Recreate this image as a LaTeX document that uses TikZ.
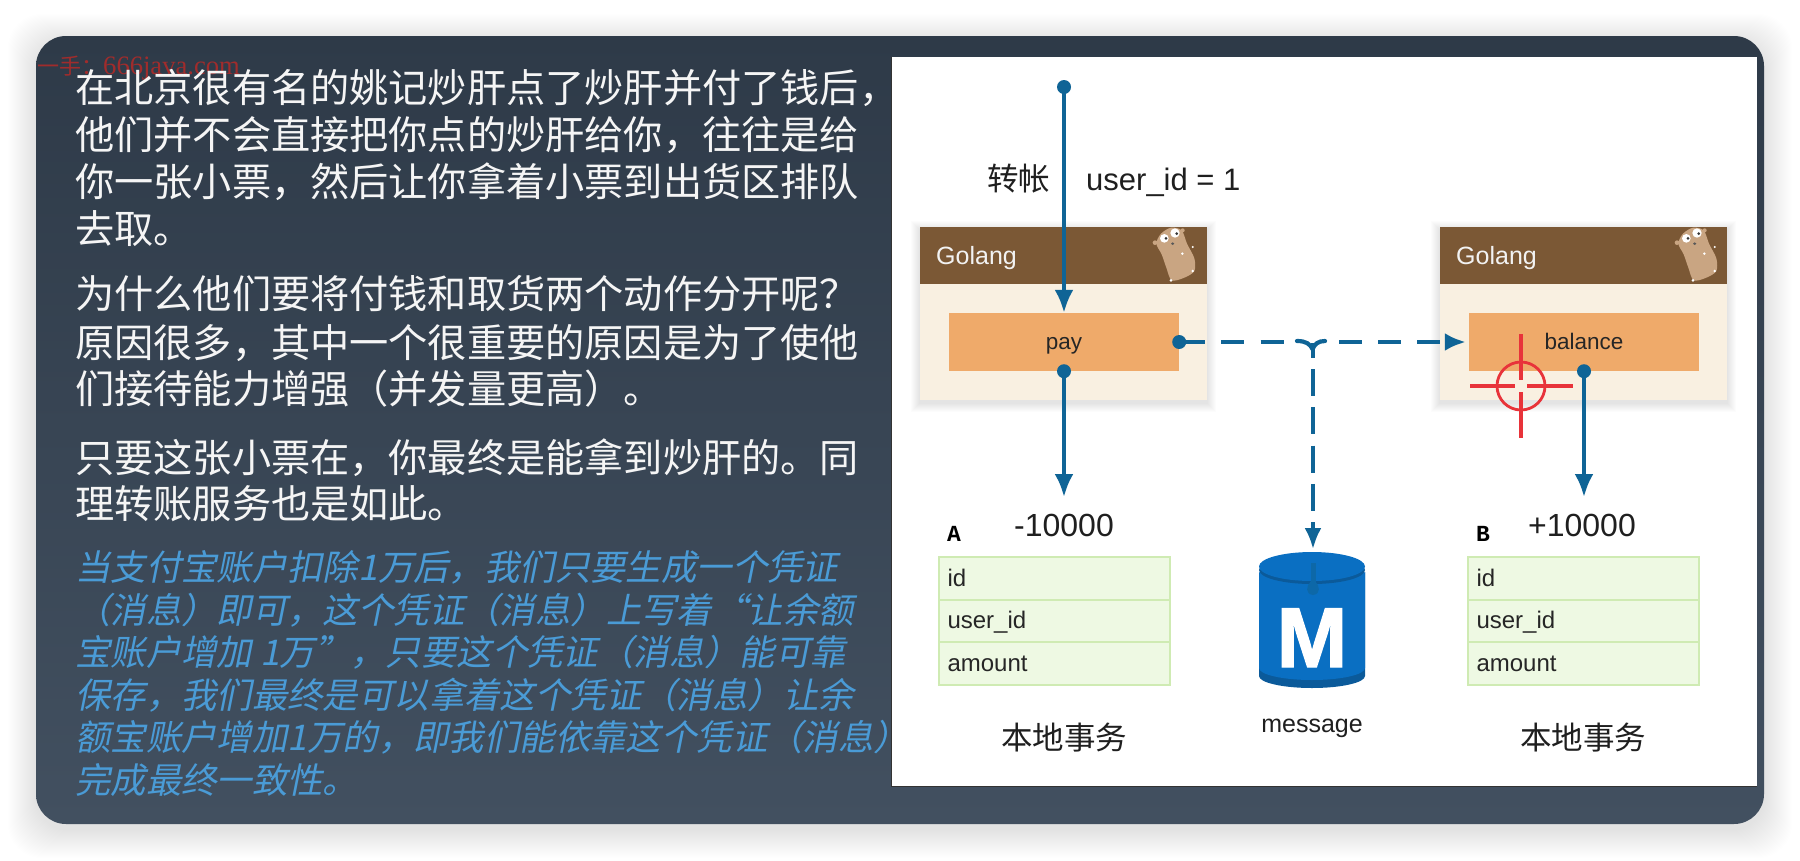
\documentclass[tikz,border=0pt]{standalone}
\usepackage{fontspec}
\setmainfont{Liberation Sans}
\newfontfamily\cjk{Noto Sans CJK SC}
\newfontfamily\cjkit[FakeSlant=0.2]{Noto Sans CJK SC}
\newfontfamily\wmserif{Liberation Serif}
\newfontfamily\monof{Liberation Mono}
\newfontfamily\mfont[FakeBold=1.6]{Liberation Sans Bold}
\usetikzlibrary{arrows.meta}
\definecolor{flowc}{HTML}{0F6496}
\definecolor{hdr}{HTML}{7B5835}
\definecolor{bodyc}{HTML}{F9F0E1}
\definecolor{inner}{HTML}{EFAA6A}
\definecolor{tfill}{HTML}{EEF9E3}
\definecolor{tline}{HTML}{CFEBB3}
\definecolor{mq}{HTML}{0A6FC2}
\definecolor{mqd}{HTML}{0B5A9A}
\definecolor{tg}{HTML}{C9A582}
\definecolor{aim}{HTML}{E8333A}
\definecolor{itc}{HTML}{4A9BD6}
\definecolor{wmc}{HTML}{A02C2C}
\definecolor{paneltop}{HTML}{2E3A48}
\definecolor{panelbot}{HTML}{425060}
\tikzset{
 bodyline/.style={anchor=base west,inner sep=0pt,text=white!96!black,font=\cjk\fontsize{39.2}{47}\selectfont},
 itline/.style={anchor=base west,inner sep=0pt,text=itc,font=\cjkit\fontsize{35.4}{43}\selectfont},
 flow/.style={draw=flowc,line width=4pt,-{Latex[length=23pt,width=19pt]}},
 flowdash/.style={draw=flowc,line width=4.2pt,-{Latex[length=21pt,width=18pt]},dash pattern=on 23pt off 16.2pt,dash phase=36.2pt},
 flowdashv/.style={draw=flowc,line width=3.6pt,-{Latex[length=21pt,width=17pt]},dash pattern=on 27pt off 11.3pt,dash phase=12.3pt},
 dotn/.style={circle,fill=flowc,minimum size=14pt,inner sep=0pt},
 hdrbox/.style={fill=hdr,minimum width=287pt,minimum height=57pt,inner sep=0pt},
 bodybox/.style={fill=bodyc,minimum width=287pt,minimum height=116pt,inner sep=0pt},
 innerbox/.style={fill=inner,minimum width=230pt,minimum height=58pt,inner sep=0pt,text height=19pt,text depth=5pt,font=\fontsize{22.5}{26}\selectfont,text=black!85},
 rowbox/.style={draw=tline,line width=2pt,fill=tfill,text width=214pt,inner xsep=8.5pt,inner ysep=0pt,minimum height=42.5pt,align=left,text height=21pt,text depth=5pt,font=\fontsize{24}{28}\selectfont,text=black!85},
 lab/.style={inner sep=0pt,anchor=base,text=black!88},
 hlabel/.style={inner sep=0pt,anchor=base west,text=white!95!black,font=\fontsize{25}{29}\selectfont},
 pics/gopher/.style={code={
  \begin{scope}[scale=1/3]
  \fill[tg] (42,65) circle (7);
  \fill[tg] (125,28) circle (6);
  \fill[tg] plot[smooth cycle] coordinates {(90,20) (122,28) (138,68) (160,112) (160,150) (130,170) (92,178) (76,140) (62,100) (46,68) (60,38)};
  \fill[white] (155,78) circle (3.5) (155,150) circle (4) (90,178) circle (4.5) (124,98) circle (4);
  \fill[white] (70,52) circle (13) (102,36) circle (14);
  \fill[black!80] (75,52) circle (4.5) (107,38) circle (4.5);
  \fill[black!65] (95,68) ellipse (5 and 4);
  \end{scope}
 }}
}
\begin{document}
\begin{tikzpicture}[x=1pt,y=-1pt]
\useasboundingbox (0,0) rectangle (1800,860);
\fill[white] (0,0) rectangle (1800,860);
% soft shadow of the window
\foreach \i in {1,...,28}{
  \fill[black,opacity=0.0042,rounded corners=34pt] (36-\i,36-\i+6) rectangle (1764+\i,824+\i+6);
}
\shade[top color=paneltop,bottom color=panelbot,rounded corners=30pt] (36,36) rectangle (1764,824);
% white sheet
\fill[white] (891,57) rectangle (1757,786);
\draw[black!80,line width=0.8pt] (891,57) -- (891,786) -- (1757,786);
% watermark
\node[anchor=base west,inner sep=0pt,text=wmc,font=\cjk\fontsize{22}{26}\selectfont] (wm1) at (37,74) {一手：};
\node[anchor=base west,inner sep=0pt,text=wmc,font=\wmserif\fontsize{26.6}{30}\selectfont] (wm2) at (103,74) {666java.com};
% left text
\node[bodyline] (l1) at (75,102) {在北京很有名的姚记炒肝点了炒肝并付了钱后，};
\node[bodyline] (l2) at (75,149) {他们并不会直接把你点的炒肝给你，往往是给};
\node[bodyline] (l3) at (75,196) {你一张小票，然后让你拿着小票到出货区排队};
\node[bodyline] (l4) at (75,243) {去取。};
\node[bodyline] (l5) at (75,308) {为什么他们要将付钱和取货两个动作分开呢？};
\node[bodyline] (l6) at (75,357) {原因很多，其中一个很重要的原因是为了使他};
\node[bodyline] (l7) at (75,403) {们接待能力增强（并发量更高）。};
\node[bodyline] (l8) at (75,472) {只要这张小票在，你最终是能拿到炒肝的。同};
\node[bodyline] (l9) at (75,518) {理转账服务也是如此。};
\node[itline] (i1) at (75,580) {当支付宝账户扣除1万后，我们只要生成一个凭证};
\node[itline] (i2) at (75,623) {（消息）即可，这个凭证（消息）上写着“让余额};
\node[itline] (i3) at (75,665) {宝账户增加 1万”，只要这个凭证（消息）能可靠};
\node[itline] (i4) at (75,708) {保存，我们最终是可以拿着这个凭证（消息）让余};
\node[itline] (i5) at (75,750) {额宝账户增加1万的，即我们能依靠这个凭证（消息）};
\node[itline] (i6) at (75,793) {完成最终一致性。};
% service boxes
\foreach \bx in {920,1440}{
  \foreach \i in {1,...,9}{
    \fill[black,opacity=0.012] (\bx-\i,227-\i+3) rectangle (\bx+287+\i,400+\i+3);
  }
}
\node[bodybox] (svcA) at (1063.5,342) {};
\node[hdrbox] (hdrA) at (1063.5,255.5) {};
\node[bodybox] (svcB) at (1583.5,342) {};
\node[hdrbox] (hdrB) at (1583.5,255.5) {};
\node[hlabel] (golA) at (936,264) {Golang};
\node[hlabel] (golB) at (1456,264) {Golang};
\pic at (1141,221) {gopher};
\pic at (1663,221) {gopher};
\node[innerbox] (pay) at (1064,342) {pay};
\node[innerbox] (bal) at (1584,342) {balance};
% tables
\foreach \tn/\tx in {A/1054.5,B/1583.5}{
  \node[rowbox] (row\tn1) at (\tx,578.3) {id};
  \node[rowbox] (row\tn2) at (\tx,620.8) {user\_id};
  \node[rowbox] (row\tn3) at (\tx,663.3) {amount};
}
\node[inner sep=0pt,anchor=center,font=\monof\bfseries\fontsize{23}{26}\selectfont] (labA) at (954,534) {A};
\node[inner sep=0pt,anchor=center,font=\monof\bfseries\fontsize{23}{26}\selectfont] (labB) at (1483,534) {B};
\node[lab,font=\fontsize{32}{36}\selectfont] (minus) at (1064,536) {-10000};
\node[lab,font=\fontsize{32}{36}\selectfont] (plus) at (1582,536) {+10000};
\node[lab,font=\cjk\fontsize{31.5}{36}\selectfont] (locA) at (1064,749) {本地事务};
\node[lab,font=\cjk\fontsize{31.5}{36}\selectfont] (locB) at (1583,749) {本地事务};
\node[lab,font=\fontsize{25}{29}\selectfont] (msg) at (1312,732) {message};
\node[anchor=base west,inner sep=0pt,font=\cjk\fontsize{31.5}{36}\selectfont,text=black!88] (zz) at (987,190) {转帐};
\node[anchor=base west,inner sep=0pt,font=\fontsize{31}{36}\selectfont,text=black!88] (uid) at (1086,190) {user\_id = 1};
% message queue
\fill[mqd] (1259,676) -- (1259,572) -- (1365,572) -- (1365,676) arc[start angle=0,end angle=180,x radius=53,y radius=12];
\fill[mq] (1259,668) -- (1259,572) -- (1365,572) -- (1365,668) arc[start angle=0,end angle=180,x radius=53,y radius=12];
\draw[white,line width=3.6pt] (1259,572) arc[start angle=180,end angle=360,x radius=53,y radius=15.8];
\fill[mqd] (1312,570) ellipse (53 and 14);
\fill[mq] (1312,566.5) ellipse (53 and 14.5);
\node[inner sep=0pt,anchor=base,text=white,font=\mfont\fontsize{85}{90}\selectfont] (mlet) at (1312,667) {M};
\coordinate (mqtop) at (1313,549);
\fill[flowc!60!mq] (1310.5,563) rectangle (1315.5,585);
\fill[flowc!60!mq] (1313,595) .. controls (1305,594) and (1306,586) .. (1311,581) -- (1315,581) .. controls (1320,586) and (1321,594) .. (1313,595);
% connectors
\node[dotn] (start) at (1064,87) {};
\coordinate (toA) at (1064,497);
\coordinate (toB) at (1584,497);
\coordinate (hop) at (1313,343);
\draw[flow] (start.center) -- (pay.north);
\draw[flow] (pay.south) -- (toA);
\draw[flow] (bal.south) -- (toB);
\draw[flowdash,shorten >=3pt] (pay.east) -- (bal.west);
\fill[white] (1296,335) rectangle (1328,350);
\draw[flowc,line width=4.2pt,line cap=round] (1297,341) .. controls (1306,341) and (1310,344) .. (1312.5,349) .. controls (1315,344) and (1318,341) .. (1325,341);
\draw[flowdashv] (hop) -- (mqtop);
\node[dotn] (dpay) at (pay.east) {};
\node[dotn] (dpays) at (pay.south) {};
\node[dotn] (dbals) at (bal.south) {};
% crosshair
\draw[aim,line width=2.8pt] (1521,386) circle (24);
\draw[aim,line width=3.2pt] (1521,334) -- (1521,380) (1521,392) -- (1521,438) (1470,386) -- (1515,386) (1527,386) -- (1573,386);
\end{tikzpicture}
\end{document}
